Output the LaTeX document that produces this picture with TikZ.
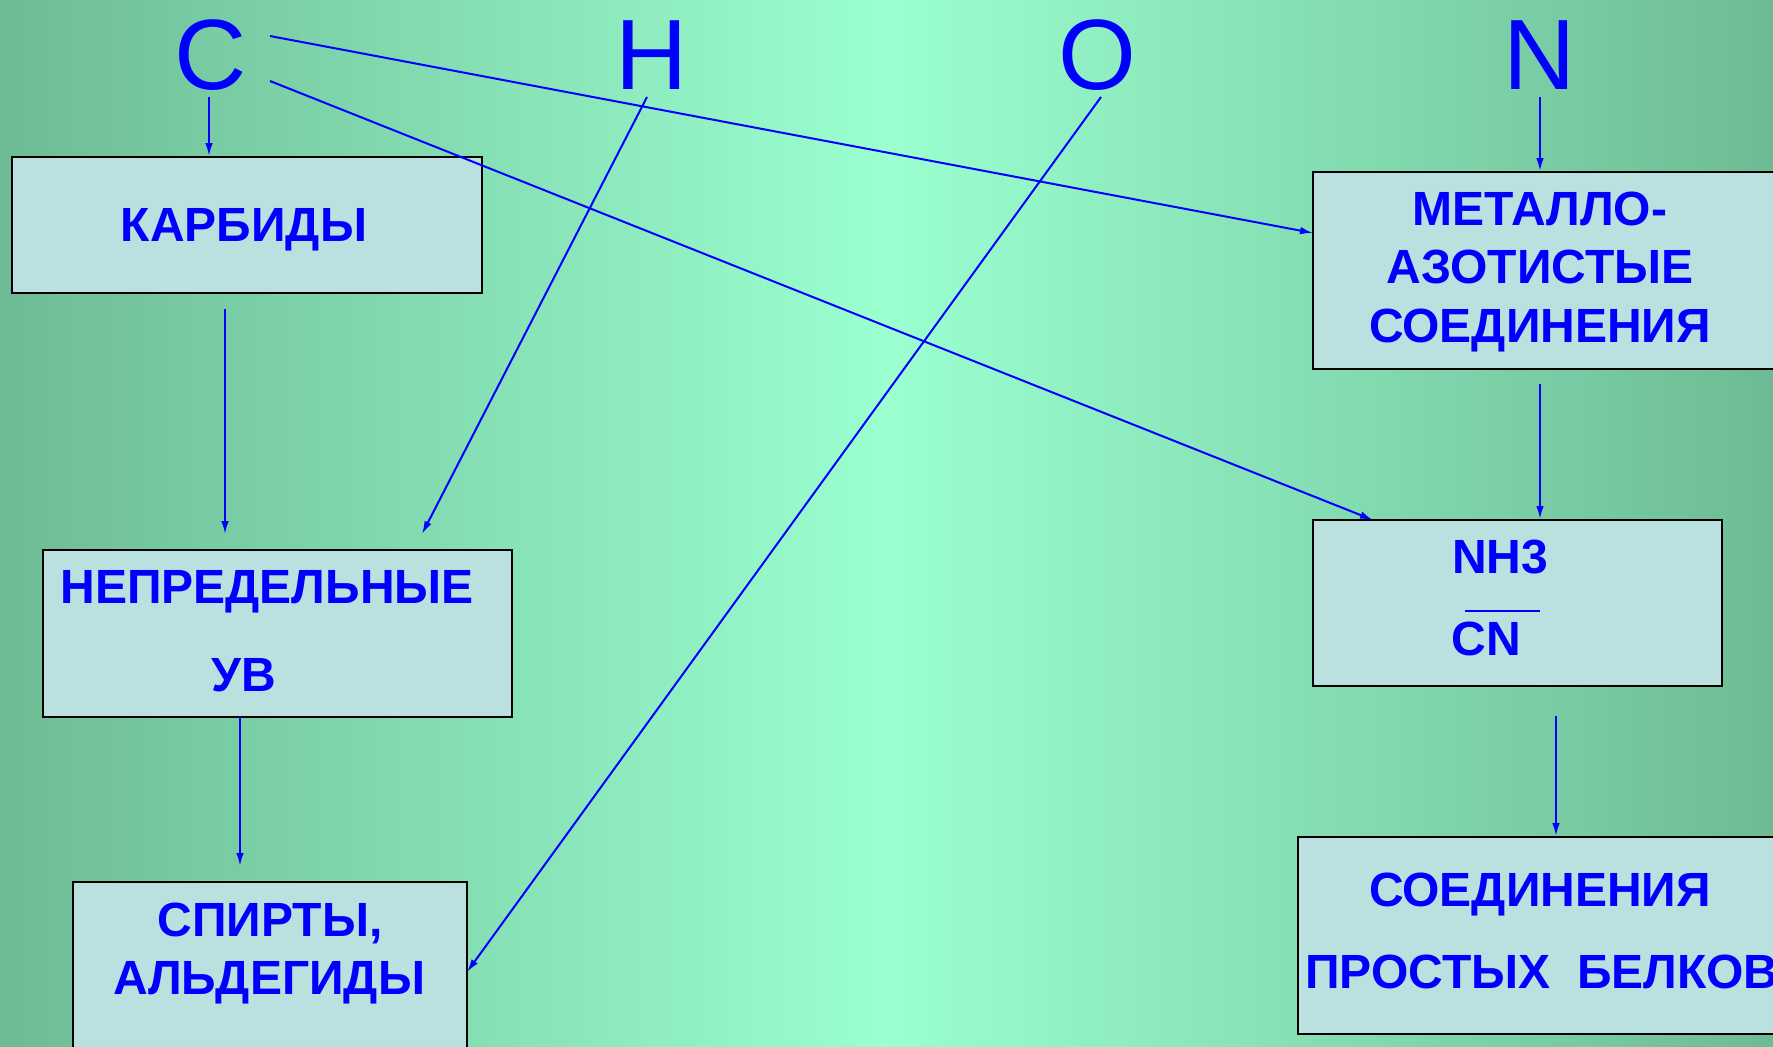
\documentclass[tikz,border=0pt]{standalone}
\usepackage{fontspec}
\setmainfont{Liberation Sans}
\usetikzlibrary{arrows.meta}
\definecolor{bgdark}{HTML}{6DBB94}
\definecolor{bglight}{HTML}{9BFFD0}
\definecolor{boxfill}{HTML}{BBE0E0}
\definecolor{ink}{HTML}{0000FF}
\begin{document}
\begin{tikzpicture}[x=0.5pt,y=-0.5pt,
  box/.style={draw=black,line width=1pt,fill=boxfill,inner sep=0pt},
  lbl/.style={text=ink,font=\fontsize{24}{28}\selectfont\bfseries,inner sep=0pt,text depth=0pt},
  elem/.style={text=ink,font=\fontsize{50}{52}\selectfont,inner sep=0pt},
  arr/.style={draw=ink,line width=1pt,-{Latex[length=6.5pt,width=3.8pt]}}]
\useasboundingbox (0,0) rectangle (1773,1046);
\begin{scope}
\clip (0,0) rectangle (1773,1046);
\shade[left color=bgdark,right color=bgdark,middle color=bglight] (0,0) rectangle (1773,1046);
% element letters
\node[elem] (eC) at (211,55) {C};
\node[elem] (eH) at (652,55) {H};
\node[elem] (eO) at (1097,55) {O};
\node[elem] (eN) at (1540,55) {N};
% boxes
\node[box,minimum width=235pt,minimum height=68pt] (kar) at (247,225) {};
\node[box,minimum width=234.5pt,minimum height=83.5pt] (nep) at (277.5,633.5) {};
\node[box,minimum width=197pt,minimum height=89pt] (spi) at (270,971) {};
\node[box,minimum width=238.5pt,minimum height=98.5pt] (met) at (1551.5,270.5) {};
\node[box,minimum width=204.5pt,minimum height=83pt] (nh) at (1517.5,603) {};
\node[box,minimum width=246pt,minimum height=98.5pt] (soe) at (1544,935.5) {};
% texts
\node[lbl] (t1) at (244,225) {КАРБИДЫ};
\node[lbl,anchor=west] (t2) at (60,587) {НЕПРЕДЕЛЬНЫЕ};
\node[lbl] (t3) at (244,675) {УВ};
\node[lbl] (t4) at (270,920) {СПИРТЫ,};
\node[lbl] (t5) at (269,978) {АЛЬДЕГИДЫ};
\node[lbl] (t6) at (1540,209) {МЕТАЛЛО-};
\node[lbl] (t7) at (1540,267) {АЗОТИСТЫЕ};
\node[lbl] (t8) at (1540,326) {СОЕДИНЕНИЯ};
\node[lbl] (t9) at (1500,557) {NH3};
\node[lbl] (t10) at (1486,639) {CN};
\coordinate (ol1) at (1465,611);
\coordinate (ol2) at (1540,611);
\draw[draw=ink,line width=1pt] (ol1) -- (ol2);
\node[lbl] (t11) at (1540,890) {СОЕДИНЕНИЯ};
\node[lbl,anchor=west] (t12) at (1305,972) {ПРОСТЫХ\ \ БЕЛКОВ};
% arrow start/end points
\coordinate (a1) at (209,97);
\coordinate (a2) at (270,36);
\coordinate (a2e) at (1313,233);
\coordinate (a3) at (270,81);
\coordinate (a3e) at (1373,520);
\coordinate (a4) at (647,97);
\coordinate (a4e) at (422,534);
\coordinate (a5) at (1101,97);
\coordinate (a5e) at (467,972);
\coordinate (a6) at (225,309);
\coordinate (a6e) at (225,534);
\coordinate (a7) at (240,717);
\coordinate (a7e) at (240,866);
\coordinate (a8) at (1540,97);
\coordinate (a9) at (1540,384);
\coordinate (a10) at (1556,716);
% connectors
\draw[arr] (a1) -- (a1 |- kar.north);
\draw[arr] (a2) -- (a2e);
\draw[arr] (a3) -- (a3e);
\draw[arr] (a4) -- (a4e);
\draw[arr] (a5) -- (a5e);
\draw[arr] (a6) -- (a6e);
\draw[arr] (a7) -- (a7e);
\draw[arr] (a8) -- (a8 |- met.north);
\draw[arr] (a9) -- (a9 |- nh.north);
\draw[arr] (a10) -- (a10 |- soe.north);
\end{scope}
\end{tikzpicture}
\end{document}
